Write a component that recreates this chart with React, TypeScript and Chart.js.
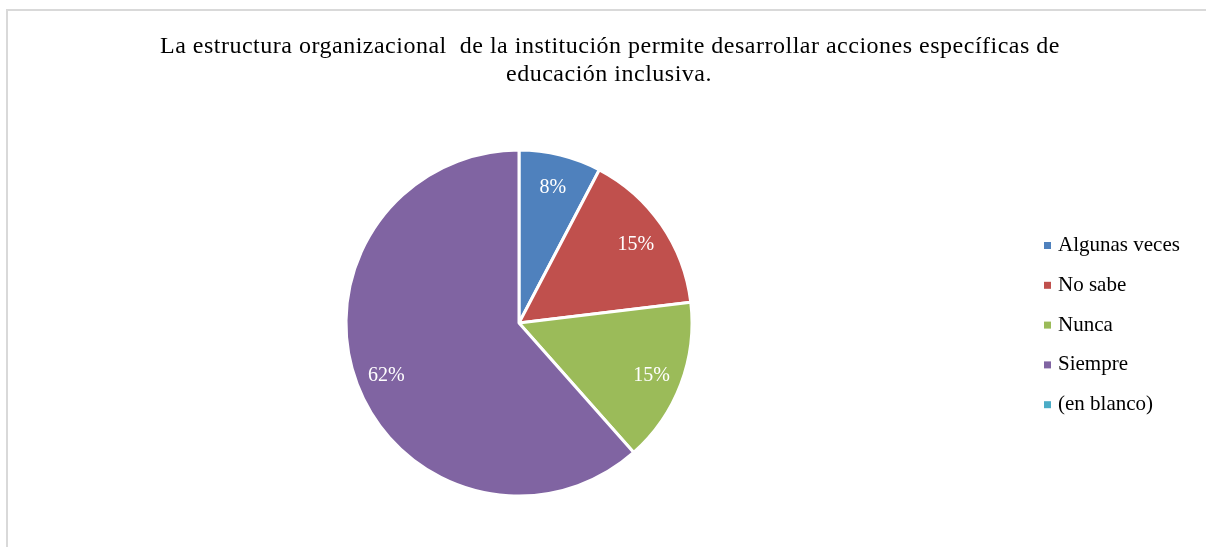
import React, { useEffect, useRef } from "react";
import { Chart, registerables } from "chart.js";

Chart.register(...registerables);

const TITLE_LINES = [
  "La estructura organizacional  de la institución permite desarrollar acciones específicas de",
  "educación inclusiva.",
];
const CATEGORIES = ["Algunas veces", "No sabe", "Nunca", "Siempre", "(en blanco)"];
const COUNTS = [1, 2, 2, 8, 0];
const COLORS = ["#4F81BD", "#C0504D", "#9BBB59", "#8064A2", "#4BACC6"];

const FONT = '"Liberation Serif", "Times New Roman", serif';

const decorPlugin = {
  id: "decor",
  beforeDraw(chart: any) {
    const ctx = chart.ctx;
    ctx.save();
    ctx.fillStyle = "#ffffff";
    ctx.fillRect(0, 0, chart.width, chart.height);
    ctx.strokeStyle = "#d9d9d9";
    ctx.lineWidth = 2;
    ctx.strokeRect(7, 10, chart.width + 20, chart.height + 20);
    ctx.restore();
  },
  afterDatasetsDraw(chart: any) {
    const ctx = chart.ctx;
    const meta = chart.getDatasetMeta(0);
    const data = chart.data.datasets[0].data as number[];
    const total = data.reduce((a, b) => a + b, 0);
    ctx.save();
    ctx.fillStyle = "#ffffff";
    ctx.font = `20px ${FONT}`;
    ctx.textAlign = "center";
    ctx.textBaseline = "middle";
    meta.data.forEach((arc: any, i: number) => {
      const v = data[i];
      if (!v) return;
      const { x, y, startAngle, endAngle, outerRadius } = arc.getProps(
        ["x", "y", "startAngle", "endAngle", "outerRadius"],
        true
      );
      const mid = (startAngle + endAngle) / 2;
      const r = outerRadius * 0.82;
      const pct = Math.round((v / total) * 100) + "%";
      ctx.fillText(pct, x + Math.cos(mid) * r, y + Math.sin(mid) * r + 2);
    });
    ctx.restore();
  },
  afterDraw(chart: any) {
    const ctx = chart.ctx;
    ctx.save();
    ctx.fillStyle = "#000000";
    ctx.font = `24px ${FONT}`;
    (ctx as any).letterSpacing = "0.5px";
    ctx.textAlign = "center";
    ctx.textBaseline = "alphabetic";
    ctx.fillText(TITLE_LINES[0], 610, 53);
    ctx.fillText(TITLE_LINES[1], 609, 81);
    (ctx as any).letterSpacing = "0px";

    ctx.font = `21px ${FONT}`;
    ctx.textAlign = "left";
    CATEGORIES.forEach((c, i) => {
      const base = 251 + i * 39.8;
      ctx.fillStyle = COLORS[i];
      ctx.fillRect(1044, base - 9, 7, 7);
      ctx.fillStyle = "#000000";
      ctx.fillText(c, 1058, base);
    });
    ctx.restore();
  },
};

export default function App() {
  const ref = useRef<HTMLCanvasElement | null>(null);
  useEffect(() => {
    if (!ref.current) return;
    const chart = new Chart(ref.current, {
      type: "pie",
      data: {
        labels: CATEGORIES,
        datasets: [
          {
            data: COUNTS,
            backgroundColor: COLORS,
            borderColor: "#ffffff",
            borderWidth: 3,
            radius: 173,
          } as any,
        ],
      },
      options: {
        responsive: false,
        animation: false,
        layout: { padding: { left: 346, right: 514, top: 150, bottom: 51 } },
        plugins: {
          legend: { display: false },
          tooltip: { enabled: false },
          title: { display: false },
        },
      },
      plugins: [decorPlugin],
    });
    return () => chart.destroy();
  }, []);
  return (
    <div style={{ position: "fixed", left: 0, top: 0, width: 1206, height: 547, background: "#fff" }}>
      <canvas ref={ref} width={1206} height={547} style={{ display: "block", width: 1206, height: 547 }} />
    </div>
  );
}
